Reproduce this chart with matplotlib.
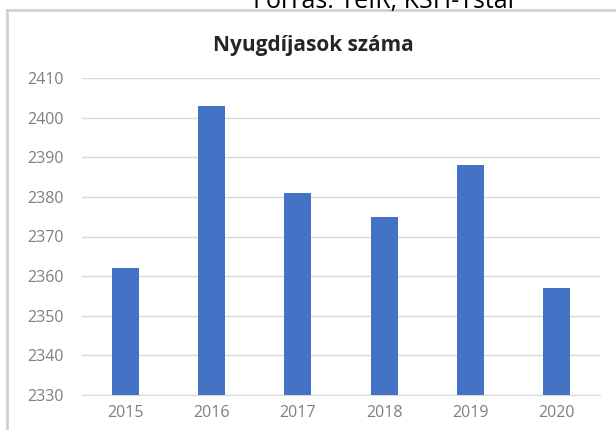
import matplotlib
matplotlib.use("Agg")
import matplotlib.pyplot as plt
from matplotlib.lines import Line2D

years = ["2015", "2016", "2017", "2018", "2019", "2020"]
values = [2362, 2403, 2381, 2375, 2388, 2357]
yticks = [2330, 2340, 2350, 2360, 2370, 2380, 2390, 2400, 2410]
title = "Nyugdíjasok száma"
source = "Forrás: TeIR, KSH-Tstar"

plt.rcParams['font.family'] = ['Open Sans', 'DejaVu Sans']

fig = plt.figure(figsize=(6.16, 4.30), dpi=100)
fig.patch.set_facecolor("white")

ax = fig.add_axes([82/616, 1 - 395/430, (600 - 82)/616, (395 - 78)/430])
x = list(range(len(years)))
ax.bar(x, values, width=0.31, color="#4472C4", zorder=3)
ax.set_xlim(-0.5, len(years) - 0.5)
ax.set_ylim(yticks[0], yticks[-1])
ax.set_yticks(yticks)
ax.set_yticklabels([str(v) for v in yticks])
ax.set_xticks(x)
ax.set_xticklabels(years)
ax.grid(axis="y", color="#d9d9d9", linewidth=1, zorder=0)
for s in ["top", "right", "left"]:
    ax.spines[s].set_visible(False)
ax.spines["bottom"].set_color("#d9d9d9")
ax.tick_params(axis="both", length=0, labelsize=11.5, labelcolor="#7f7f7f")
ax.tick_params(axis="y", pad=13)
ax.tick_params(axis="x", pad=7)

fig.text(313/616, 1 - 45/430, title, ha="center", va="center",
         fontsize=15, fontweight="bold", color="#262626")
fig.text(253/616, 1 - 8/430, source, ha="left", va="baseline",
         fontsize=18, color="#000000")

# chart frame
fig.add_artist(Line2D([7/616, 1], [1 - 10/430, 1 - 10/430], transform=fig.transFigure,
                      color="#d0d0d0", linewidth=2))
fig.add_artist(Line2D([7/616, 7/616], [0, 1 - 10/430], transform=fig.transFigure,
                      color="#d0d0d0", linewidth=2))

fig.savefig("out.png", dpi=100, facecolor="white")
